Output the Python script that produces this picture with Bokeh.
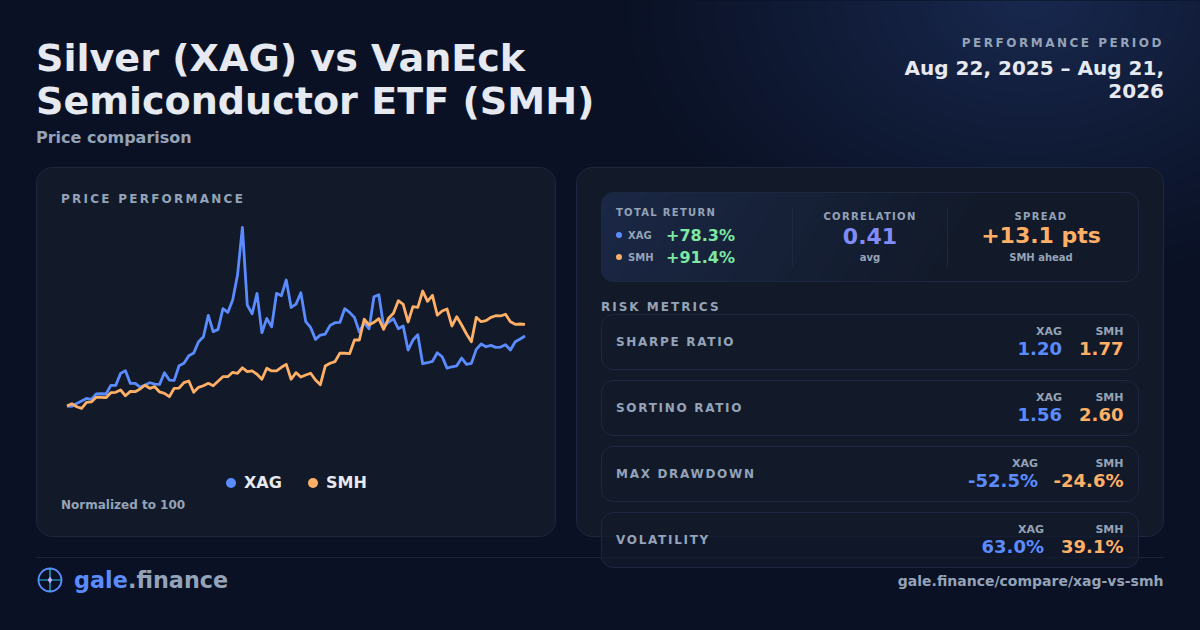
import json
import numpy as np
from bokeh.embed import file_html
from bokeh.resources import INLINE
from bokeh.plotting import figure
from bokeh.models import Range1d
from bokeh.core.properties import value

# ---------- data ----------
xag_series = [100.0,99.6,102.9,105.5,108.5,107.4,113.4,113.7,113.4,123.1,123.1,136.5,139.5,125.3,125.3,121.2,
 123.4,126.0,124.5,124.2,137.2,129.0,128.6,145.0,147.7,156.2,159.2,171.9,177.5,201.4,183.1,185.7,208.8,204.7,
 218.5,246.5,299.8,212.9,203.2,226.0,182.0,198.0,188.7,226.0,223.4,240.9,210.3,214.0,226.7,194.3,187.9,174.5,
 179.4,180.5,190.2,193.2,193.5,208.8,204.7,199.1,182.7,193.2,186.4,222.2,224.5,188.7,193.9,197.6,186.4,189.4,
 162.6,173.8,179.7,147.3,148.4,149.9,159.6,155.1,142.4,143.9,145.0,153.6,146.5,147.7,163.3,169.3,166.3,167.8,
 165.6,165.9,168.6,162.6,171.9,174.9,178.3]
smh_series = [100.0,102.6,99.2,97.4,104.1,104.5,109.7,109.7,109.3,114.9,115.3,117.9,111.5,116.4,116.0,119.0,
 123.2,119.8,121.6,115.7,114.2,110.4,119.8,120.1,126.1,128.0,115.3,120.9,122.7,125.4,122.7,127.6,132.8,132.8,
 137.7,136.6,142.8,138.4,139.2,135.5,129.9,142.2,139.2,139.2,143.3,146.6,129.9,137.3,132.4,134.7,136.6,129.1,
 123.8,144.7,147.8,149.6,159.0,159.0,158.5,173.8,173.8,197.0,190.6,193.6,197.7,185.8,198.1,203.7,217.8,213.8,
 194.0,211.1,210.4,228.6,217.1,223.8,201.5,206.3,208.5,189.5,199.9,190.6,180.5,171.9,199.2,194.3,195.4,199.2,
 201.0,200.7,202.6,194.3,191.4,191.7,191.4]
tickers = ["XAG", "SMH"]
total_returns = ["+78.3%", "+91.4%"]
metric_names = ["SHARPE RATIO", "SORTINO RATIO", "MAX DRAWDOWN", "VOLATILITY"]
xag_metrics = ["1.20", "1.56", "-52.5%", "63.0%"]
smh_metrics = ["1.77", "2.60", "-24.6%", "39.1%"]

# ---------- palette ----------
BLUE, ORANGE, GREEN, INDIGO = "#5b8cff", "#ffb066", "#7ee8a2", "#818cf8"
WHITE, MUTED = "#e6e9ef", "#94a3b8"
BORDER, PANEL = "#1d2840", "#121a29"
PAGE = "#0a1124"
FONT = value("DejaVu Sans")
W, H = 1200, 630

# scale of the chart: index 0 sits at px 67, index 94 at px 525; 100 sits at px y 406
# (all ranges carry half a pixel to cancel the half-pixel translate of the canvas)
step, per_unit = (525 - 67) / 94, 0.894
ys = 100 - (H - 405.5) / per_unit
p = figure(width=W, height=H, output_backend="svg", toolbar_location=None,
           x_range=Range1d(-66.5 / step, (W - 66.5) / step),
           y_range=Range1d(ys, ys + H / per_unit),
           x_axis_location=None, y_axis_location=None, min_border=0,
           background_fill_color=PAGE, border_fill_color=PAGE, outline_line_color=None)
p.grid.visible = False
p.extra_x_ranges["px"] = Range1d(0.5, W + 0.5)
p.extra_y_ranges["py"] = Range1d(-0.5, H - 0.5)
PX = dict(x_range_name="px", y_range_name="py")


def Y(y):
    return H - y


def rr_path(x0, y0, x1, y1, r):
    a = np.linspace(0, np.pi / 2, 9)
    xs = np.concatenate([x1 - r + r * np.sin(a), x1 - r + r * np.cos(a), x0 + r - r * np.sin(a), x0 + r - r * np.cos(a)])
    ys_ = np.concatenate([y0 + r - r * np.cos(a), y1 - r + r * np.sin(a), y1 - r + r * np.cos(a), y0 + r - r * np.sin(a)])
    return xs, ys_


def rrect(x0, y0, x1, y1, r, fill=None, alpha=1.0, line=BORDER, lw=1):
    xs, ys_ = rr_path(x0, y0, x1, y1, r)
    p.patch(list(xs), list(Y(ys_)), fill_color=fill, fill_alpha=alpha if fill else 0,
            line_color=line, line_width=lw, **PX)


def txt(x, base, s, size, color=WHITE, align="left", bold=True):
    # y is given as the baseline; the glyph is placed around the middle of its box
    p.text([x], [Y(base + 0.5 - 0.375 * size)], text=[s], text_font=FONT,
           text_font_size=f"{size}px", text_font_style="bold" if bold else "normal", text_color=color,
           text_align=align, text_baseline="alphabetic", **PX)


def hline(x0, x1, y, color=BORDER, lw=1):
    p.line([x0, x1], [Y(y), Y(y)], line_color=color, line_width=lw, **PX)


# ---------- page background with a soft glow at the top right ----------
yy, xx = np.mgrid[0:H, 0:W]
yp = H - 1 - yy
glow = np.clip(1 - np.hypot((xx - 1030) / 430, (yp - 0) / 300), 0, 1) ** 1.15
base = np.array([10, 17, 36])[None, None, :]
tint = np.array([24, 40, 78])[None, None, :]
rgb = base + (tint - base) * glow[..., None]
img = np.dstack([rgb, np.full((H, W), 255)]).astype(np.uint32)
packed = img[..., 0] | img[..., 1] << 8 | img[..., 2] << 16 | img[..., 3] << 24
p.image_rgba(image=[packed], x=0, y=0, dw=W, dh=H, **PX)

# ---------- header ----------
txt(36, 72, "Silver (XAG) vs VanEck", 38.1)
txt(36, 114.5, "Semiconductor ETF (SMH)", 38.1)
txt(36, 143, "Price comparison", 16, MUTED)
txt(1164, 47, "PERFORMANCE PERIOD", 12, MUTED, "right")
txt(1164, 75, "Aug 22, 2025 – Aug 21,", 20, WHITE, "right")
txt(1164, 98, "2026", 20, WHITE, "right")

# ---------- panels ----------
rrect(36.5, 167.5, 555.5, 536.5, 16, PANEL)
rrect(576.5, 167.5, 1163.5, 536.5, 16, PANEL)
hline(36, 1164, 557.5, "#1b2438")

# ---------- left chart ----------
txt(61, 203, "PRICE PERFORMANCE", 12, MUTED)
idx = list(range(len(xag_series)))
p.line(idx, xag_series, line_color=BLUE, line_width=2.8, line_join="round")
p.line(idx, smh_series, line_color=ORANGE, line_width=2.8, line_join="round")
for cx, tx, name, col in zip([231, 313], [244, 326], tickers, [BLUE, ORANGE]):
    p.scatter([cx], [Y(483)], size=10, fill_color=col, line_color=None, **PX)
    txt(tx, 488, name, 16, WHITE)
txt(61, 509, "Normalized to 100", 12, MUTED)

# ---------- stat box with horizontal gradient ----------
bx0, by0, bx1, by1, br = 601, 192, 1139, 282, 12
bh, bw = by1 - by0, bx1 - bx0
gy, gx = np.mgrid[0:bh, 0:bw]
gy_top = bh - 1 - gy
t = np.clip((gx + gy_top * 0.6) / (bw * 0.75), 0, 1)
c0, c1 = np.array([27, 40, 70]), np.array([18, 26, 41])
g = c0[None, None, :] + (c1 - c0)[None, None, :] * t[..., None]
dx = np.maximum(np.maximum(br - gx, gx - (bw - 1 - br)), 0)
dy = np.maximum(np.maximum(br - gy, gy - (bh - 1 - br)), 0)
mask = np.clip(br + 0.5 - np.hypot(dx, dy), 0, 1) * 255
g = g.astype(np.uint32)
box = g[..., 0] | g[..., 1] << 8 | g[..., 2] << 16 | mask.astype(np.uint32) << 24
p.image_rgba(image=[box], x=bx0, y=Y(by1), dw=bw, dh=bh, **PX)
rrect(bx0 + .5, by0 + .5, bx1 - .5, by1 - .5, br, None)
for dvx in [792.5, 947.5]:
    p.line([dvx, dvx], [Y(207), Y(267)], line_color=BORDER, line_width=1, **PX)

txt(616, 216, "TOTAL RETURN", 10, MUTED)
for yc, name, val, col in zip([235, 257], tickers, total_returns, [BLUE, ORANGE]):
    p.scatter([619], [Y(yc)], size=6, fill_color=col, line_color=None, **PX)
    txt(628, yc + 3.8, name, 10, MUTED)
    txt(666, yc + 5.8, val, 16, GREEN)
txt(870, 219.3, "CORRELATION", 10, MUTED, "center")
txt(870, 243.5, "0.41", 22, INDIGO, "center")
txt(870, 261, "avg", 10, MUTED, "center")
txt(1041, 219.3, "SPREAD", 10, MUTED, "center")
txt(1041, 243.5, "+13.1 pts", 22, ORANGE, "center")
txt(1041, 261, "SMH ahead", 10, MUTED, "center")

# ---------- risk metrics ----------
txt(601, 311, "RISK METRICS", 12, MUTED)
tops = [314, 380, 446, 512]
xag_right = [1062, 1062, 1038, 1044]
for top, name, xv, sv, xr in zip(tops, metric_names, xag_metrics, smh_metrics, xag_right):
    rrect(601.5, top + .5, 1138.5, top + 55.5, 12, "#121a2a", 0.72)
    txt(616, top + 32, name, 12, MUTED)
    txt(xr, top + 21, tickers[0], 11, MUTED, "right")
    txt(1123.5, top + 21, tickers[1], 11, MUTED, "right")
    txt(xr, top + 41, xv, 18, BLUE, "right")
    txt(1123.5, top + 41, sv, 18, ORANGE, "right")

# ---------- footer ----------
p.scatter([50], [Y(580)], size=23, fill_alpha=0, line_color=BLUE, line_width=1.8, **PX)
p.line([38, 62], [Y(580), Y(580)], line_color="#22c3e6", line_width=1.2, **PX)
p.line([50, 50], [Y(568), Y(592)], line_color="#22c3e6", line_width=1.2, **PX)
p.scatter([50], [Y(580)], marker="diamond", size=7, fill_color="#c4a8ff", line_color=None, **PX)
txt(74, 587.5, "gale", 22.3, BLUE)
txt(128, 587.5, ".finance", 22.3, MUTED)
txt(1163.5, 586, "gale.finance/compare/xag-vs-smh", 14, MUTED, "right")

# ---------- page ----------
# [letter spacing in px, share of the added width to take back on the left]
spacing = {"PRICE PERFORMANCE": [2.25, 0], "PERFORMANCE PERIOD": [2.5, 1], "TOTAL RETURN": [1.3, 0],
           "CORRELATION": [1.3, .5], "SPREAD": [1.3, .5], "RISK METRICS": [2, 0], "SHARPE RATIO": [1.7, 0],
           "SORTINO RATIO": [1.7, 0], "MAX DRAWDOWN": [1.7, 0], "VOLATILITY": [1.7, 0]}
script = """<script>
(function(){var m=%s;function w(r){r.querySelectorAll('*').forEach(function(e){
if(e.shadowRoot)w(e.shadowRoot);
if(e.tagName==='text'&&!e.__ls&&m[e.textContent]){var s=m[e.textContent];e.__ls=1;
e.setAttribute('letter-spacing',s[0]);
e.setAttribute('x',parseFloat(e.getAttribute('x'))-s[1]*s[0]*e.textContent.length);}});}
var n=0,t=setInterval(function(){w(document);if(++n>40)clearInterval(t);},50);})();
</script>""" % json.dumps(spacing)
html = file_html(p, INLINE)
html = html.replace("</head>", "<style>html,body{margin:0;padding:0;overflow:hidden;background:%s}</style></head>" % PAGE, 1)
html = html.replace("</body>", script + "</body>", 1)
open("out.html", "w").write(html)
